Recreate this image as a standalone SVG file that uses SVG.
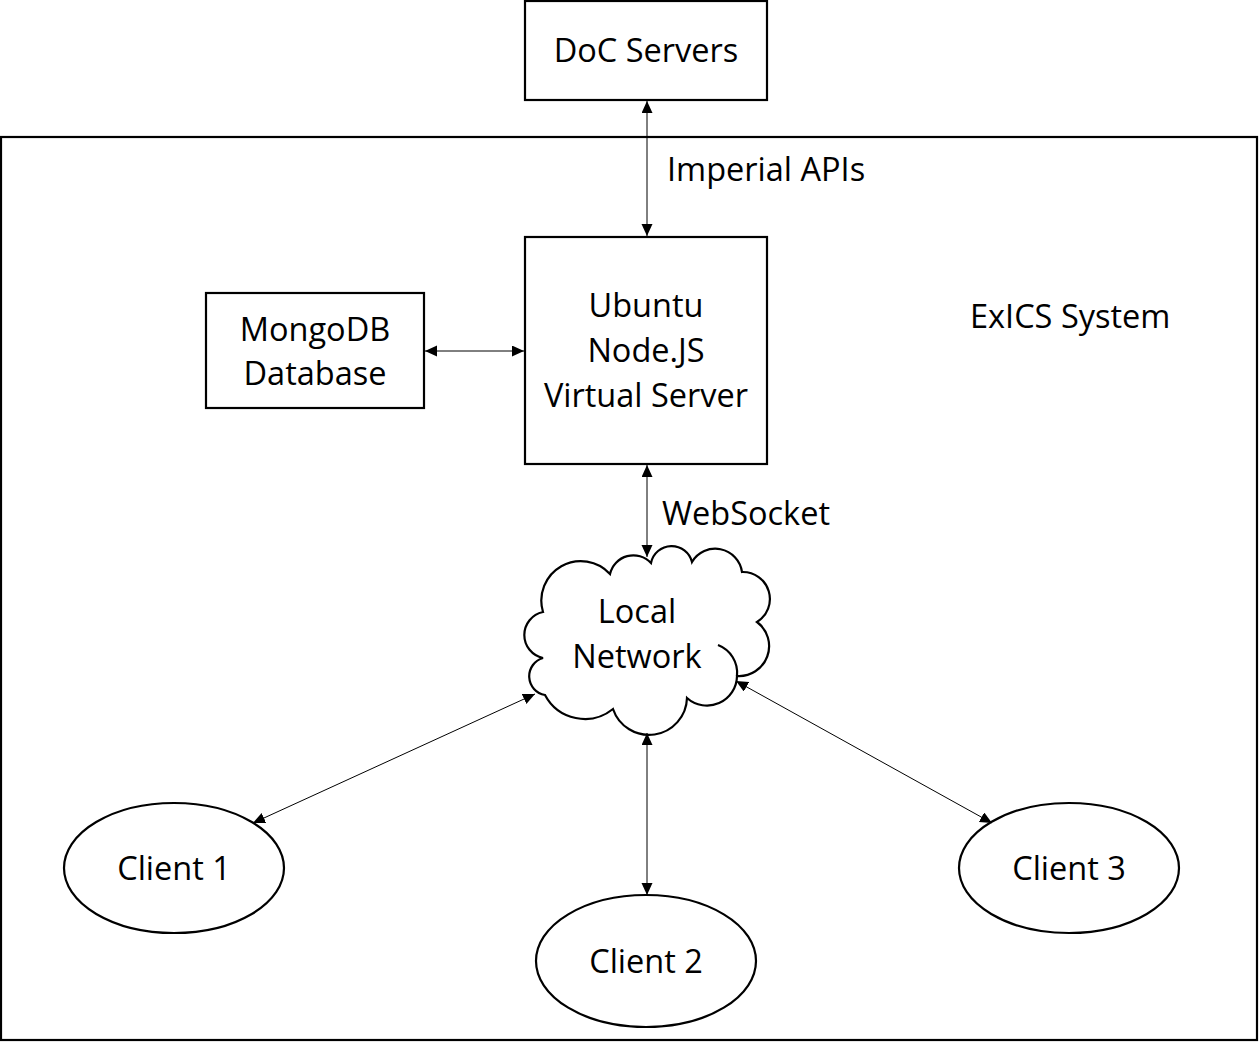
<svg xmlns="http://www.w3.org/2000/svg" width="1259" height="1042" viewBox="0 0 1259 1042">
<style>
  .shape { fill: #fff; stroke: #000; stroke-width: 2.2; }
  .conn { fill: none; stroke: #000; stroke-width: 1; }
  .lbl { font-family: "Open Sans", "Noto Sans", "Liberation Sans", sans-serif; font-size: 32.5px; fill: #000; }
  .c { text-anchor: middle; }
</style>
<defs>
  <marker id="ah" markerUnits="userSpaceOnUse" markerWidth="13" markerHeight="12" refX="12" refY="5.5" orient="auto-start-reverse">
    <path d="M0,0 L12,5.5 L0,11 Z" fill="#000"/>
  </marker>
</defs>
<rect width="1259" height="1042" fill="#fff"/>
<g id="system">
  <rect class="shape" x="1" y="137" width="1256" height="903" fill="none"/>
  <text class="lbl" x="970" y="328">ExICS System</text>
</g>
<g id="doc-servers">
  <rect class="shape" x="525" y="1" width="242" height="99"/>
  <text class="lbl c" x="646" y="62">DoC Servers</text>
</g>
<g id="server">
  <rect class="shape" x="525" y="237" width="242" height="227"/>
  <text class="lbl c" x="646" y="317">Ubuntu</text>
  <text class="lbl c" x="646" y="362">Node.JS</text>
  <text class="lbl c" x="646" y="407">Virtual Server</text>
</g>
<g id="mongodb">
  <rect class="shape" x="206" y="293" width="218" height="115"/>
  <text class="lbl c" x="315" y="341">MongoDB</text>
  <text class="lbl c" x="315" y="385">Database</text>
</g>
<g id="local-network">
  <path class="shape" d="M543 612 A39.5 39.5 0 0 1 610 574 A24 24 0 0 1 651 563 A21 21 0 0 1 692 562 A27 27 0 0 1 742 572 A27 27 0 0 1 757 622 A30 30 0 0 1 737 676 A30 30 0 0 1 687 698 A38 38 0 0 1 613 709 A45 45 0 0 1 545 695 A19 19 0 0 1 543 658 A23.5 23.5 0 0 1 543 612 Z"/>
  <path class="shape" fill="none" d="M718 645 A30 30 0 0 1 737 676"/>
  <text class="lbl c" x="637" y="623">Local</text>
  <text class="lbl c" x="637" y="668">Network</text>
</g>
<g id="client-1">
  <ellipse class="shape" cx="174" cy="868" rx="110" ry="65"/>
  <text class="lbl c" x="174" y="880">Client 1</text>
</g>
<g id="client-2">
  <ellipse class="shape" cx="646" cy="961" rx="110" ry="66"/>
  <text class="lbl c" x="646" y="973">Client 2</text>
</g>
<g id="client-3">
  <ellipse class="shape" cx="1069" cy="868" rx="110" ry="65"/>
  <text class="lbl c" x="1069" y="880">Client 3</text>
</g>
<g id="connectors">
  <line class="conn" x1="647" y1="101" x2="647" y2="236" marker-start="url(#ah)" marker-end="url(#ah)"/>
  <line class="conn" x1="425" y1="351" x2="524" y2="351" marker-start="url(#ah)" marker-end="url(#ah)"/>
  <line class="conn" x1="647" y1="465" x2="647" y2="557" marker-start="url(#ah)" marker-end="url(#ah)"/>
  <line class="conn" x1="535" y1="694" x2="253" y2="823" marker-start="url(#ah)" marker-end="url(#ah)"/>
  <line class="conn" x1="647" y1="733" x2="647" y2="895" marker-start="url(#ah)" marker-end="url(#ah)"/>
  <line class="conn" x1="736" y1="681" x2="992" y2="823" marker-start="url(#ah)" marker-end="url(#ah)"/>
  <text class="lbl" x="667" y="181">Imperial APIs</text>
  <text class="lbl" x="662" y="525">WebSocket</text>
</g>
</svg>
